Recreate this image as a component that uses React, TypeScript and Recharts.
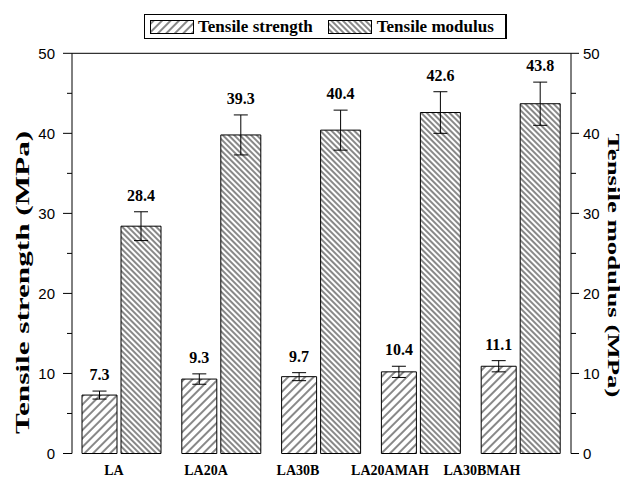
import React from 'react';
import { BarChart, Bar, XAxis, YAxis, ErrorBar, LabelList, Legend, ReferenceLine } from 'recharts';

const categories = ['LA', 'LA20A', 'LA30B', 'LA20AMAH', 'LA30BMAH'];
const strength = [7.3, 9.3, 9.6, 10.2, 10.9];
const strengthErr = [0.5, 0.65, 0.5, 0.7, 0.7];
const strengthText = ['7.3', '9.3', '9.7', '10.4', '11.1'];
const modulus = [28.4, 39.8, 40.4, 42.6, 43.7];
const modulusErr = [1.8, 2.5, 2.5, 2.6, 2.7];
const modulusText = ['28.4', '39.3', '40.4', '42.6', '43.8'];
const yTicks = [0, 5, 10, 15, 20, 25, 30, 35, 40, 45, 50];

const data = categories.map((name, i) => ({
  name,
  strength: strength[i],
  sErr: strengthErr[i],
  modulus: modulus[i],
  mErr: modulusErr[i],
}));

const serif = '"Liberation Serif", "Times New Roman", serif';
const sans = '"Liberation Sans", Arial, sans-serif';

// label sits above the error bar cap
const valueLabel = (vals: number[], errs: number[], texts: string[]) => (props: any) => {
  const vb = props.viewBox ?? props;
  const { x, y, width, height } = vb;
  const i = props.index;
  const perUnit = Math.abs(height) / vals[i];
  const capY = y - errs[i] * perUnit;
  return (
    <text x={x + width / 2} y={capY - 11} textAnchor="middle" fontFamily={serif} fontWeight="bold" fontSize={16} fill="#000">
      {texts[i]}
    </text>
  );
};

const LeftTick = (props: any) => {
  const { x, y, payload } = props;
  const major = payload.value % 10 === 0;
  return (
    <g>
      <line x1={x} y1={y} x2={x - (major ? 9 : 5)} y2={y} stroke="#000" />
      {major && (
        <text x={x - 17} y={y} dy="0.35em" textAnchor="end" fontFamily={sans} fontSize={15} fill="#000">
          {payload.value}
        </text>
      )}
    </g>
  );
};

const RightTick = (props: any) => {
  const { x, y, payload } = props;
  const major = payload.value % 10 === 0;
  return (
    <g>
      <line x1={x} y1={y} x2={x + (major ? 8 : 5)} y2={y} stroke="#000" />
      {major && (
        <text x={x + 12} y={y} dy="0.35em" textAnchor="start" fontFamily={sans} fontSize={15} fill="#000">
          {payload.value}
        </text>
      )}
    </g>
  );
};

const leftTitle = (props: any) => {
  const { x, y, height } = props.viewBox;
  const cx = x + 15;
  const cy = y + height / 2 + 29;
  return (
    <text x={cx} y={cy} transform={`rotate(-90, ${cx}, ${cy})`} textAnchor="middle" dominantBaseline="central"
      fontFamily={serif} fontWeight="bold" fontSize={19} fill="#000" textLength={303} lengthAdjust="spacingAndGlyphs">
      Tensile strength (MPa)
    </text>
  );
};

const rightTitle = (props: any) => {
  const { x, y, height } = props.viewBox;
  const cx = x + 42;
  const cy = y + height / 2 + 12;
  return (
    <text x={cx} y={cy} transform={`rotate(90, ${cx}, ${cy})`} textAnchor="middle" dominantBaseline="central"
      fontFamily={serif} fontWeight="bold" fontSize={17} fill="#000" textLength={264} lengthAdjust="spacingAndGlyphs">
      Tensile modulus (MPa)
    </text>
  );
};

const Swatch = ({ fill }: { fill: string }) => (
  <svg width={44} height={14} style={{ display: 'block' }}>
    <rect x={0.5} y={0.5} width={43} height={13} fill={fill} stroke="#000" />
  </svg>
);

const LegendBox = () => (
  <div style={{
    display: 'flex', alignItems: 'center', boxSizing: 'border-box', width: 363, height: 25,
    border: '1px solid #000', borderRightWidth: 2, paddingLeft: 5, background: '#fff',
    fontFamily: serif, fontWeight: 'bold', fontSize: 17, color: '#000',
  }}>
    <Swatch fill="url(#hatchS)" />
    <span style={{ marginLeft: 4 }}>Tensile strength</span>
    <span style={{ marginLeft: 15 }}><Swatch fill="url(#hatchM)" /></span>
    <span style={{ marginLeft: 5 }}>Tensile modulus</span>
  </div>
);

export default function App() {
  return (
    <BarChart width={620} height={470} data={data} margin={{ top: 45.3, right: 0, bottom: 0, left: 0 }}>
      <defs>
        <pattern id="hatchS" patternUnits="userSpaceOnUse" width={6} height={6} patternTransform="rotate(45)">
          <line x1={3} y1={0} x2={3} y2={6} stroke="#111" strokeWidth={1} />
        </pattern>
        <pattern id="hatchM" patternUnits="userSpaceOnUse" width={4} height={4} patternTransform="rotate(-45)">
          <line x1={2} y1={0} x2={2} y2={4} stroke="#111" strokeWidth={1} />
        </pattern>
      </defs>
      <XAxis xAxisId="bars" dataKey="name" height={0} tick={false} tickLine={false} axisLine={{ stroke: '#000' }} />
      <XAxis xAxisId="labels" dataKey="name" height={24.5} axisLine={false} tickLine={false} tickSize={0} tickMargin={12}
        padding={{ left: -4, right: 43 }} interval={0}
        tick={{ fontFamily: serif, fontWeight: 'bold', fontSize: 14, fill: '#000' }} />
      <YAxis yAxisId="left" width={64} domain={[0, 50]} ticks={yTicks} interval={0} tickSize={0} tickMargin={0}
        tickLine={false} axisLine={{ stroke: '#000' }} tick={<LeftTick />} label={{ content: leftTitle }} />
      <YAxis yAxisId="right" orientation="right" width={57} domain={[0, 50]} ticks={yTicks} interval={0} tickSize={0}
        tickMargin={0} tickLine={false} axisLine={{ stroke: '#000' }} tick={<RightTick />} label={{ content: rightTitle }} />
      <ReferenceLine yAxisId="left" xAxisId="bars" y={50} stroke="#000" ifOverflow="visible" />
      <Legend layout="vertical" align="center" verticalAlign="middle" content={<LegendBox />}
        wrapperStyle={{ top: 6, left: 136, width: 363 }} />
      <Bar dataKey="strength" xAxisId="bars" yAxisId="left" barSize={35} fill="url(#hatchS)" stroke="#000"
        strokeWidth={1} isAnimationActive={false}>
        <ErrorBar dataKey="sErr" width={7} stroke="#000" strokeWidth={1} direction="y" />
        <LabelList dataKey="strength" content={valueLabel(strength, strengthErr, strengthText)} />
      </Bar>
      <Bar dataKey="modulus" xAxisId="bars" yAxisId="right" barSize={40} fill="url(#hatchM)" stroke="#000"
        strokeWidth={1} isAnimationActive={false}>
        <ErrorBar dataKey="mErr" width={7} stroke="#000" strokeWidth={1} direction="y" />
        <LabelList dataKey="modulus" content={valueLabel(modulus, modulusErr, modulusText)} />
      </Bar>
    </BarChart>
  );
}
